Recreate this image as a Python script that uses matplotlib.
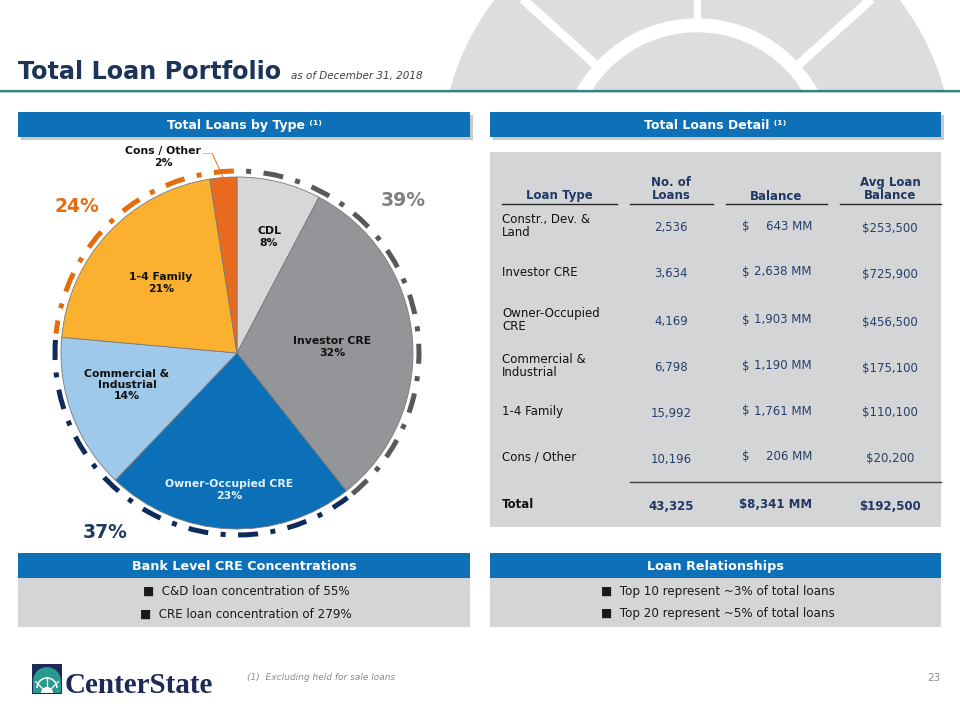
import numpy as np
import matplotlib
matplotlib.use("Agg")
import matplotlib.pyplot as plt
from matplotlib.patches import Rectangle, Circle, Arc, Wedge

# ---- data ----
pie_labels = ["CDL", "Investor CRE", "Owner-Occupied CRE", "Commercial &\nIndustrial", "1-4 Family", "Cons / Other"]
row_labels = ["Constr., Dev. &\nLand", "Investor CRE", "Owner-Occupied\nCRE", "Commercial &\nIndustrial", "1-4 Family", "Cons / Other"]
num_loans = [2536, 3634, 4169, 6798, 15992, 10196]
balance_mm = [643, 2638, 1903, 1190, 1761, 206]
avg_balance = [253500, 725900, 456500, 175100, 110100, 20200]
total_avg = 192500
groups = [[0, 1], [2, 3], [4, 5]]          # investor-ish / owner-occ+C&I / consumer
left_bullets = ["C&D loan concentration of 55%", "CRE loan concentration of 279%"]
right_bullets = ["Top 10 represent ~3% of total loans", "Top 20 represent ~5% of total loans"]

# ---- styles ----
slice_colors = ["#D6D7D9", "#939598", "#0B70B7", "#9FC9EA", "#FBB12F", "#E86A1E"]
group_colors = ["#595959", "#0F2B5B", "#E46C0A"]
group_text = ["#7F7F7F", "#1F3864", "#E46C0A"]
BLUE = "#0E70B7"
NAVY = "#1F3864"
PANEL = "#D4D5D7"

fig = plt.figure(figsize=(9.6, 7.2), dpi=100)
bg = fig.add_axes([0, 0, 1, 1])
bg.set_xlim(0, 960)
bg.set_ylim(720, 0)
bg.axis("off")

# watermark in the top right corner
clip = Rectangle((0, 0), 960, 90, transform=bg.transData)
wm = "#DCDDDE"
cx, cy = 697, 156
for art in [Circle((cx, cy), 255, color=wm), Circle((cx, cy), 137, color="white"),
            Circle((cx, cy), 123, color=wm)]:
    bg.add_patch(art)
    art.set_clip_path(clip)
for ang, lw in [(90, 5), (138, 6.5), (42, 6.5)]:
    a = np.radians(ang)
    ln, = bg.plot([cx + 130 * np.cos(a), cx + 300 * np.cos(a)],
                  [cy - 130 * np.sin(a), cy - 300 * np.sin(a)], color="white", lw=lw,
                  solid_capstyle="butt")
    ln.set_clip_path(clip)

# title
bg.text(18, 79, "Total Loan Portfolio", fontsize=17.2, fontweight="bold", color="#1B3457",
        va="baseline", ha="left")
bg.text(291, 79, "as of December 31, 2018", fontsize=7.5, style="italic", color="#404040",
        va="baseline", ha="left")
bg.plot([0, 960], [92, 92], color="#BFD9D9", lw=1.5)
bg.plot([0, 960], [91, 91], color="#2F8383", lw=1.6)


def header(x0, x1, y0, y1, txt, size=9, shadow=True):
    if shadow:
        bg.add_patch(Rectangle((x0 + 3, y0 + 3), x1 - x0, y1 - y0, color="#A6A6A6", alpha=0.6, lw=0))
    bg.add_patch(Rectangle((x0, y0), x1 - x0, y1 - y0, color=BLUE, lw=0))
    bg.text((x0 + x1) / 2, (y0 + y1) / 2 + 1, txt, color="white", fontsize=size,
            fontweight="bold", ha="center", va="center")


header(18, 470, 112, 137, "Total Loans by Type \u207d\u00b9\u207e")
header(490, 941, 112, 137, "Total Loans Detail \u207d\u00b9\u207e")

# ---- table ----
bg.add_patch(Rectangle((490, 152), 451, 375, color=PANEL, lw=0))
hdr_y = 196
bg.text(559, hdr_y, "Loan Type", fontsize=8.5, fontweight="bold", color=NAVY, ha="center", va="center")
bg.text(671, 189, "No. of\nLoans", fontsize=8.5, fontweight="bold", color=NAVY, ha="center",
        va="center", linespacing=1.05)
bg.text(776, hdr_y, "Balance", fontsize=8.5, fontweight="bold", color=NAVY, ha="center", va="center")
bg.text(890, 189, "Avg Loan\nBalance", fontsize=8.5, fontweight="bold", color=NAVY, ha="center",
        va="center", linespacing=1.05)
for xa, xb in [(502, 617), (630, 713), (726, 827), (840, 941)]:
    bg.plot([xa, xb], [203.5, 203.5], color="#262626", lw=1)

row_y = [226, 272, 320, 366, 411, 457]
VAL = "#27406B"
for lab, n, b, a, y in zip(row_labels, num_loans, balance_mm, avg_balance, row_y):
    bg.text(502, y, lab, fontsize=8.5, color="#111111", ha="left", va="center", linespacing=1.05)
    bg.text(671, y + 2, f"{n:,}", fontsize=8.5, color=VAL, ha="center", va="center")
    bg.text(742, y, "$", fontsize=8.5, color=VAL, ha="left", va="center")
    bg.text(812, y, f"{b:,} MM", fontsize=8.5, color=VAL, ha="right", va="center")
    bg.text(890, y + 2, f"${a:,}", fontsize=8.5, color=VAL, ha="center", va="center")

bg.plot([630, 941], [482, 482], color="#404040", lw=1)
bg.text(502, 504, "Total", fontsize=8.5, fontweight="bold", color="#111111", ha="left", va="center")
bg.text(671, 506, f"{sum(num_loans):,}", fontsize=8.5, fontweight="bold", color=NAVY, ha="center", va="center")
bg.text(812, 504, f"${sum(balance_mm):,} MM", fontsize=8.5, fontweight="bold", color=NAVY,
        ha="right", va="center")
bg.text(890, 506, f"${total_avg:,}", fontsize=8.5, fontweight="bold", color=NAVY, ha="center", va="center")

# ---- bottom boxes ----
for x0, x1, title, bullets in [(18, 470, "Bank Level CRE Concentrations", left_bullets),
                               (490, 941, "Loan Relationships", right_bullets)]:
    bg.add_patch(Rectangle((x0, 578), x1 - x0, 49, color=PANEL, lw=0))
    header(x0, x1, 553, 578, title, size=9.2, shadow=False)
    for j, t in enumerate(bullets):
        bg.text((x0 + x1) / 2 + 2, 591 + 23 * j, "\u25a0  " + t, fontsize=8.6, color="#1A1A1A",
                ha="center", va="center")

# ---- footer ----
logo_navy = "#1B2A56"
logo_teal = "#2A9A8E"
bg.add_patch(Rectangle((32, 664), 30, 30, color=logo_navy, lw=0, zorder=1))
bg.add_patch(Rectangle((33, 680), 28, 13, color=logo_teal, lw=0, zorder=2))
bg.add_patch(Wedge((47, 681), 14, 180, 360, color=logo_teal, lw=0, zorder=2))
bg.add_patch(Arc((47, 688), 20, 20, theta1=180, theta2=360, color="white", lw=1.1, zorder=3))
bg.add_patch(Wedge((47, 693), 6, 180, 360, color="white", lw=0, zorder=3))
for ang in [225, 270, 315]:
    a = np.radians(ang)
    bg.plot([47 + 6 * np.cos(a), 47 + 16 * np.cos(a)], [693 + 6 * np.sin(a), 693 + 16 * np.sin(a)],
            color="white", lw=0.9, zorder=3)
bg.text(65, 693, "CenterState", fontsize=21, family="Liberation Serif", fontweight="bold",
        color=logo_navy, ha="left", va="baseline")
bg.text(247, 678, "(1)  Excluding held for sale loans", fontsize=6.5, style="italic",
        color="#8C8C8C", ha="left", va="center")
bg.text(940, 678, "23", fontsize=7.5, color="#8C8C8C", ha="right", va="center")

# ---- pie ----
pcx, pcy, R = 237, 353, 176
pax = fig.add_axes([(pcx - 200) / 960, (720 - pcy - 200) / 720, 400 / 960, 400 / 720])
total = sum(balance_mm)
pax.pie(balance_mm, colors=slice_colors, startangle=90, counterclock=False, radius=R,
        wedgeprops=dict(edgecolor="#7A7A7A", linewidth=0.6))
pax.set_xlim(-200, 200)
pax.set_ylim(-200, 200)
pax.axis("off")

cum = np.concatenate([[0], np.cumsum(balance_mm)]) / total
pcts = [round(100 * b / total) for b in balance_mm]
lab_pos = [(32, 116), (95, 6), (-8, -137), (-110, -32), (-76, 70), (-74, 196)]
lab_col = ["#111111", "#111111", "#E3F0FF", "#111111", "#111111", "#111111"]
for name, p, (x, y), c in zip(pie_labels, pcts, lab_pos, lab_col):
    pax.text(x, y, f"{name}\n{p}%", fontsize=7.8, fontweight="bold", color=c,
             ha="center", va="center", linespacing=1.15)
pax.plot([-34, -25, -14], [200, 200, 176], color="#E86A1E", lw=0.7)

grp_pos = [(166, 152), (-132, -179), (-160, 147)]
for g, col, tcol, (x, y) in zip(groups, group_colors, group_text, grp_pos):
    a_start = 90 - 360 * cum[g[-1] + 1]
    a_end = 90 - 360 * cum[g[0]]
    pax.add_patch(Arc((0, 0), 2 * 182, 2 * 182, theta1=a_start + 1, theta2=a_end - 1,
                      color=col, lw=3.6, linestyle=(0, (4, 2.5, 1, 2.5))))
    share = round(100 * sum(balance_mm[i] for i in g) / total)
    pax.text(x, y, f"{share}%", fontsize=13.5, fontweight="bold", color=tcol,
             ha="center", va="center")

fig.savefig("out.png", dpi=100)
